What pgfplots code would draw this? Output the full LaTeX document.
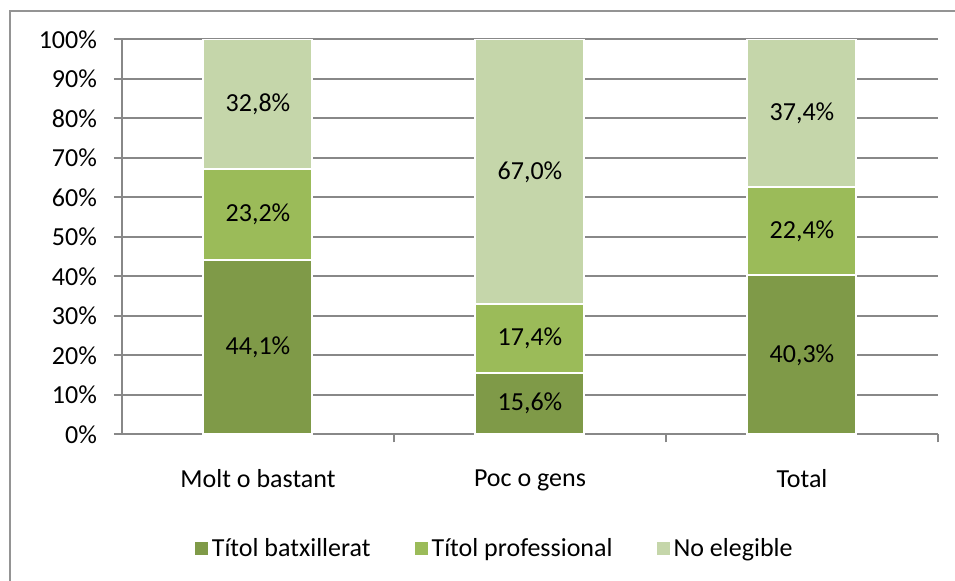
\documentclass[border=0pt]{standalone}
\usepackage{fontspec}
\setmainfont{Carlito}
\usepackage{pgfplots}
\pgfplotsset{compat=1.18}
\definecolor{cA}{HTML}{7F9A48}
\definecolor{cB}{HTML}{9BBB59}
\definecolor{cC}{HTML}{C5D6AA}
\definecolor{gr}{HTML}{888888}
\begin{document}
\fontsize{13}{15.5}\selectfont
\begin{tikzpicture}
\path[use as bounding box] (0,0) rectangle (477.5pt,290.5pt);
\draw[gr!90, line width=1pt] (4.75pt,0) -- (4.75pt,285pt) -- (477.5pt,285pt);
\begin{axis}[
  at={(61pt,73.25pt)}, anchor=south west, scale only axis,
  width=408pt, height=197.7pt,
  ybar stacked, bar width=54.5pt,
  xmin=-0.5, xmax=2.5, ymin=0, ymax=100.1,
  xtick={0.5,1.5,2.5}, xticklabels={,,},
  extra x ticks={0,1,2},
  extra x tick labels={Molt o bastant,Poc o gens,Total},
  extra x tick style={major tick length=0pt, xticklabel style={yshift=-13pt}},
  ytick={0,10,...,100},
  yticklabels={0\%,10\%,20\%,30\%,40\%,50\%,60\%,70\%,80\%,90\%,100\%},
  yticklabel style={xshift=-4pt},
  ymajorgrids, major grid style={gr, line width=1pt},
  axis lines*=left, axis line style={gr, line width=1pt},
  tick style={gr, line width=1pt},
  tick align=outside, major tick length=4pt,
  /pgf/number format/assume math mode=true,
  /pgf/number format/.cd, fixed, fixed zerofill, precision=1, use comma, /pgfplots/.cd,
  visualization depends on={rawy \as \rawy},
  nodes near coords={\pgfmathprintnumber{\rawy}\%},
  every node near coord/.append style={anchor=center, text=black, yshift=0pt},
  legend columns=3,
  legend style={draw=none, at={(0.458,0)}, anchor=center, yshift=-57.25pt,
    /tikz/every even column/.append style={column sep=20pt}},
  legend image code/.code={\fill[#1, draw=none] (0pt,-3.25pt) rectangle (6.5pt,3.25pt);},
]
\addplot[fill=cA, draw=white, line width=1pt] coordinates {(0,44.1) (1,15.6) (2,40.3)};
\addplot[fill=cB, draw=white, line width=1pt] coordinates {(0,23.2) (1,17.4) (2,22.4)};
\addplot[fill=cC, draw=white, line width=1pt] coordinates {(0,32.8) (1,67.0) (2,37.4)};
\legend{Títol batxillerat, Títol professional, No elegible}
\end{axis}
\end{tikzpicture}
\end{document}
